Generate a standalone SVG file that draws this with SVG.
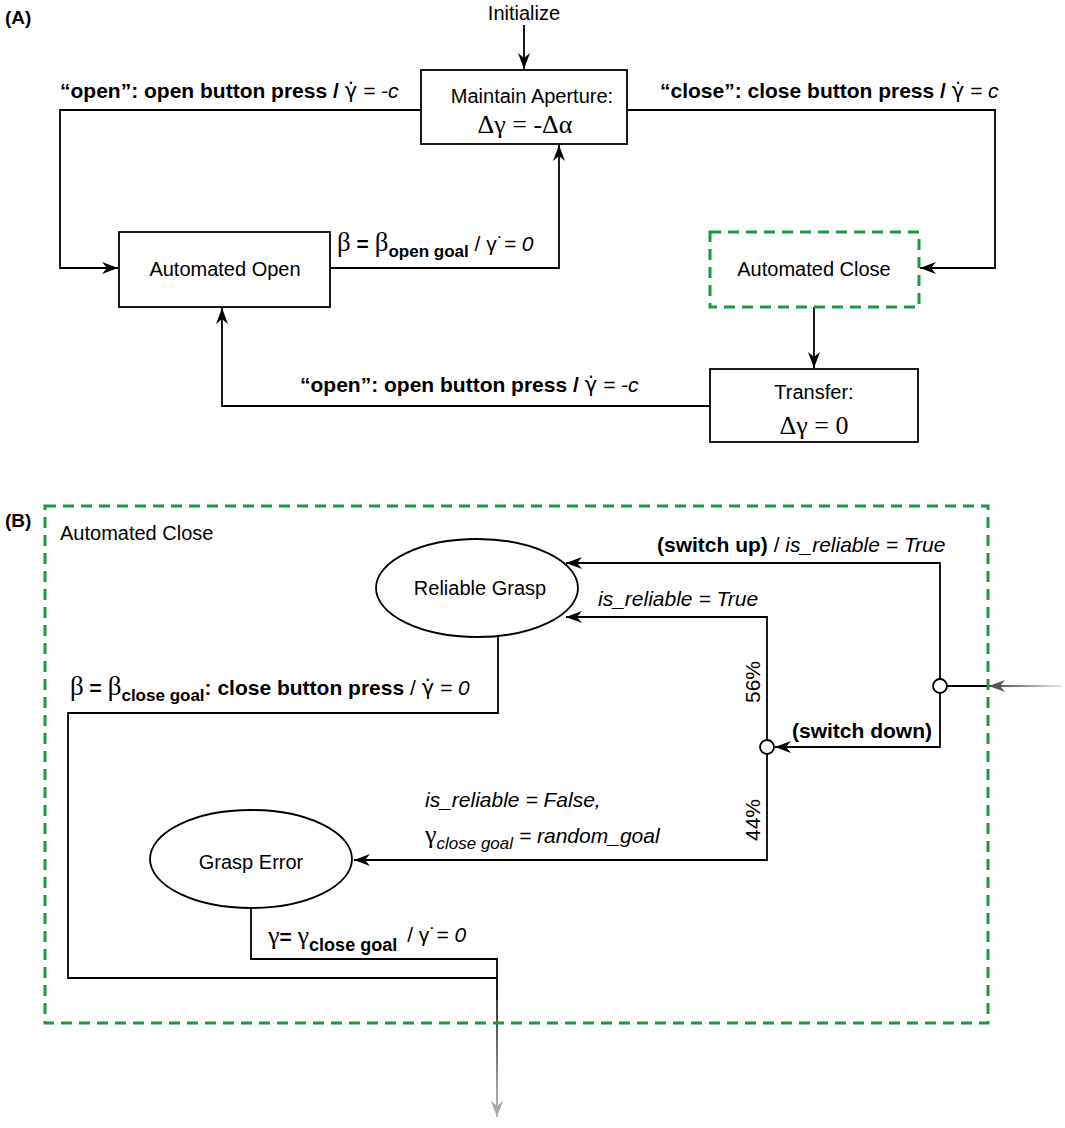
<svg xmlns="http://www.w3.org/2000/svg" width="1065" height="1128" viewBox="0 0 1065 1128">
<style>
text{font-family:"Liberation Sans",Arial,"DejaVu Sans",sans-serif;fill:#000}
.nt{font-size:20px;text-anchor:middle}
.lb{font-size:21px}
.b{font-weight:bold}
.i{font-style:italic}
.sf{font-family:"Liberation Serif","DejaVu Serif",serif}
.gd{font-family:"DejaVu Sans",sans-serif;font-weight:normal;font-style:normal}
.box{fill:#fff;stroke:#000;stroke-width:1.8}
.gdash{fill:none;stroke:#1a9a3e;stroke-width:3;stroke-dasharray:11 7}
.ln{fill:none;stroke:#000;stroke-width:1.8}
.jn{fill:#fff;stroke:#000;stroke-width:1.8}
</style>
<defs>
<marker id="arr" viewBox="0 0 16 12" refX="16" refY="6" markerWidth="16" markerHeight="12" orient="auto" markerUnits="userSpaceOnUse"><path d="M0,0 L16,6 L0,12 L5,6 z" fill="#000"/></marker>
<marker id="arrg" viewBox="0 0 16 12" refX="16" refY="6" markerWidth="16" markerHeight="12" orient="auto" markerUnits="userSpaceOnUse"><path d="M0,0 L16,6 L0,12 L5,6 z" fill="#555"/></marker>
<marker id="arrl" viewBox="0 0 16 12" refX="16" refY="6" markerWidth="16" markerHeight="12" orient="auto" markerUnits="userSpaceOnUse"><path d="M0,0 L16,6 L0,12 L5,6 z" fill="#a8a8a8"/></marker>
<linearGradient id="gin" gradientUnits="userSpaceOnUse" x1="990" y1="0" x2="1062" y2="0"><stop offset="0" stop-color="#444"/><stop offset="1" stop-color="#e8e8e8"/></linearGradient>
<linearGradient id="gout" gradientUnits="userSpaceOnUse" x1="0" y1="1000" x2="0" y2="1112"><stop offset="0" stop-color="#222"/><stop offset="1" stop-color="#b0b0b0"/></linearGradient>
</defs>

<text x="5" y="24" class="b" font-size="19">(A)</text>
<text x="5" y="527" class="b" font-size="19">(B)</text>

<g id="connectors">
<path class="ln" d="M524,25 V69" marker-end="url(#arr)"/>
<path class="ln" d="M421,110 H60 V268 H118" marker-end="url(#arr)"/>
<path class="ln" d="M330,268 H559 V145" marker-end="url(#arr)"/>
<path class="ln" d="M627,110 H995 V268 H920" marker-end="url(#arr)"/>
<path class="ln" d="M814,307 V368" marker-end="url(#arr)"/>
<path class="ln" d="M710,406 H222 V308" marker-end="url(#arr)"/>
<path class="ln" d="M940,679 V563 H566" marker-end="url(#arr)"/>
<path class="ln" d="M767,740 V617 H566" marker-end="url(#arr)"/>
<path class="ln" d="M940,693 V747 H775" marker-end="url(#arr)"/>
<path class="ln" d="M767,754 V860 H354" marker-end="url(#arr)"/>
<path class="ln" d="M947,686 H989"/>
<path fill="none" stroke="url(#gin)" stroke-width="1.8" d="M1062,686 H989" marker-end="url(#arrg)"/>
<path class="ln" d="M498,637 V713 H68 V978 H497"/>
<path class="ln" d="M251,908 V959 H497 V1000"/>
<path fill="none" stroke="url(#gout)" stroke-width="1.8" d="M497,999 V1117" marker-end="url(#arrl)"/>
</g>

<g id="labels">
<text x="60" y="98" class="lb"><tspan class="b">“open”: open button press / </tspan><tspan class="gd">γ̇</tspan><tspan class="i"> = -c</tspan></text>
<text x="660" y="98" class="lb"><tspan class="b">“close”: close button press / </tspan><tspan class="gd">γ̇</tspan><tspan class="i"> = c</tspan></text>
<text x="337" y="251" class="lb"><tspan class="sf" style="font-size:27px">β</tspan><tspan class="b"> = </tspan><tspan class="sf" style="font-size:27px">β</tspan><tspan class="b" style="font-size:17px" dy="6">open goal</tspan><tspan dy="-6"> / γ˙</tspan><tspan class="i">= 0</tspan></text>
<text x="300" y="392" class="lb"><tspan class="b">“open”: open button press / </tspan><tspan class="gd">γ̇</tspan><tspan class="i"> = -c</tspan></text>
<text x="657" y="552" class="lb"><tspan class="b">(switch up)</tspan><tspan> / </tspan><tspan class="i">is_reliable = True</tspan></text>
<text x="598" y="606" class="lb i">is_reliable = True</text>
<text x="792" y="738" class="lb b">(switch down)</text>
<text x="753" y="689" class="lb" text-anchor="middle" transform="rotate(-90 753 682)">56%</text>
<text x="753" y="827" class="lb" text-anchor="middle" transform="rotate(-90 753 820)">44%</text>
<text x="425" y="807" class="lb i">is_reliable = False,</text>
<text x="425" y="843" class="lb"><tspan class="sf" style="font-size:26px">γ</tspan><tspan class="i" style="font-size:17px" dy="6">close goal</tspan><tspan class="i" dy="-6"> = random_goal</tspan></text>
<text x="70" y="695" class="lb"><tspan class="sf" style="font-size:27px">β</tspan><tspan class="b"> = </tspan><tspan class="sf" style="font-size:27px">β</tspan><tspan class="b" style="font-size:17px" dy="6">close goal</tspan><tspan class="b" dy="-6">: close button press</tspan><tspan> / </tspan><tspan class="gd">γ̇</tspan><tspan class="i"> = 0</tspan></text>
<text x="268" y="944" class="lb"><tspan class="sf" style="font-size:26px">γ</tspan><tspan class="b">= </tspan><tspan class="sf" style="font-size:26px">γ</tspan><tspan class="b" style="font-size:18px" dy="7">close goal</tspan><tspan dy="-9" dx="10">/  γ˙</tspan><tspan class="i">= 0</tspan></text>
</g>

<g id="node-initialize"><text x="524" y="20" class="nt">Initialize</text></g>

<g id="node-maintain-aperture">
<rect class="box" x="421" y="70" width="206" height="74"/>
<text x="532" y="103" class="nt">Maintain Aperture:</text>
<text x="525" y="133" class="nt sf" style="font-size:26px">Δγ = -Δα</text>
</g>

<g id="node-automated-open">
<rect class="box" x="119" y="232" width="211" height="75"/>
<text x="225" y="276" class="nt">Automated Open</text>
</g>

<g id="node-automated-close">
<rect x="710" y="232" width="209" height="75" fill="#fff"/>
<rect class="gdash" x="710" y="232" width="209" height="75"/>
<text x="814" y="276" class="nt">Automated Close</text>
</g>

<g id="node-transfer">
<rect class="box" x="710" y="369" width="208" height="73"/>
<text x="814" y="399" class="nt">Transfer:</text>
<text x="814" y="434" class="nt sf" style="font-size:26px">Δγ = 0</text>
</g>

<g id="node-automated-close-detail">
<rect class="gdash" x="45" y="506" width="943" height="517"/>
<text x="60" y="540" font-size="20">Automated Close</text>
</g>

<g id="node-reliable-grasp">
<ellipse class="box" cx="477" cy="588" rx="101" ry="49"/>
<text x="480" y="595" class="nt">Reliable Grasp</text>
</g>

<g id="node-grasp-error">
<ellipse class="box" cx="251" cy="859" rx="101" ry="49"/>
<text x="251" y="869" class="nt">Grasp Error</text>
</g>

<g id="node-junction-switch"><circle class="jn" cx="940" cy="686" r="7"/></g>
<g id="node-junction-prob"><circle class="jn" cx="767" cy="747" r="7"/></g>
</svg>
